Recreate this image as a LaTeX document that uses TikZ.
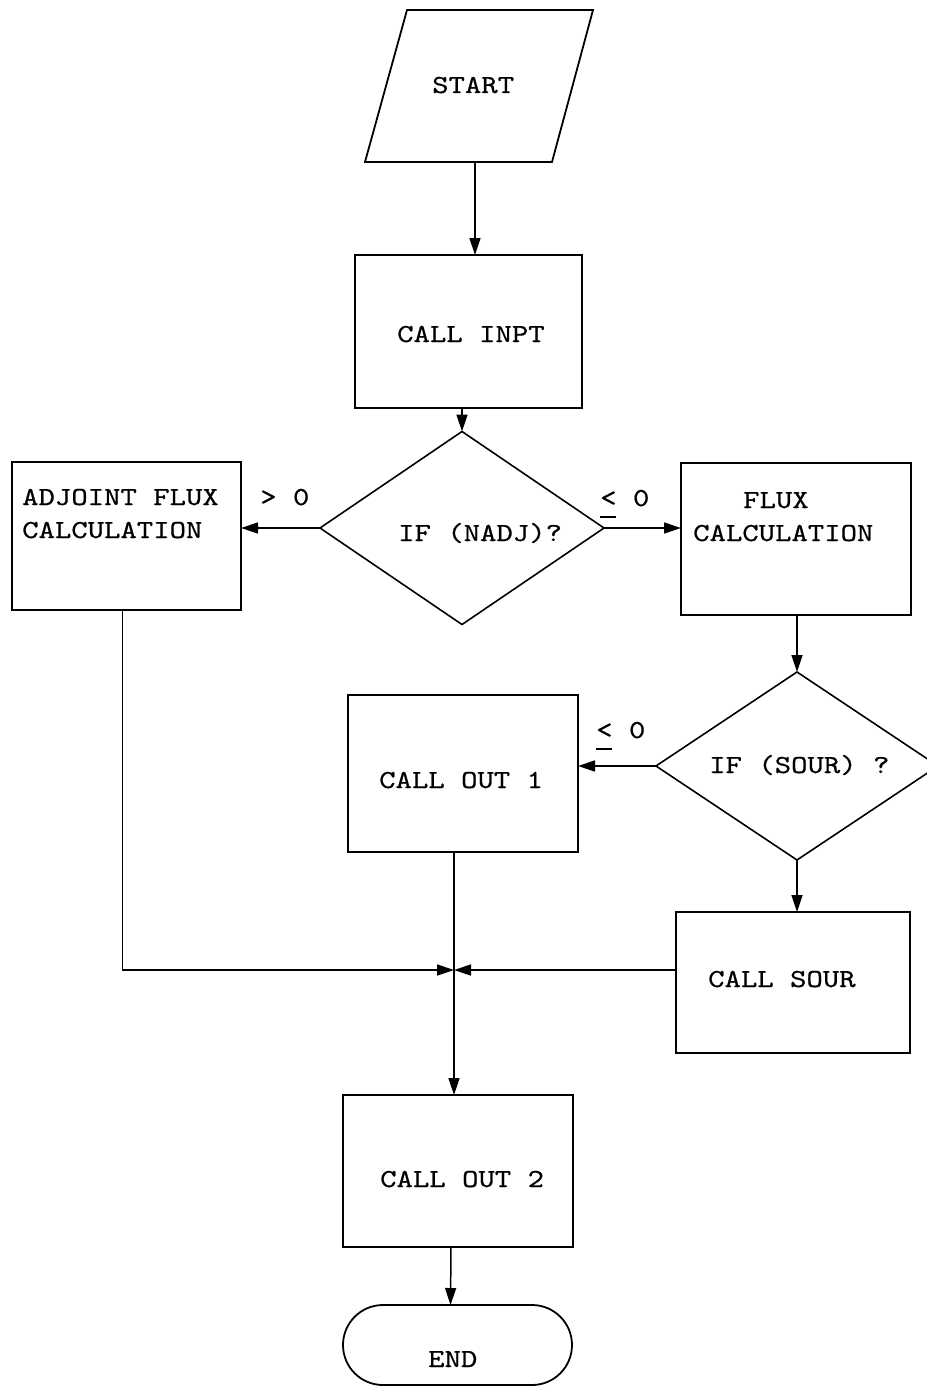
\documentclass[tikz,border=0pt]{standalone}
\usepackage{fontspec}
\newfontfamily\courfont{lmmono10-regular.otf}[FakeStretch=1.2,FakeBold=0.6]
\usetikzlibrary{shapes.geometric,shapes.misc,arrows.meta}
\begin{document}
\begin{tikzpicture}[x=1pt,y=-1pt,
  shapebox/.style={draw,line width=1.8pt,inner sep=0pt,outer sep=0pt,rectangle},
  decision/.style={draw,line width=1.6pt,inner sep=0pt,outer sep=0pt,diamond},
  terminal/.style={draw,line width=1.8pt,inner sep=0pt,outer sep=0pt,rounded rectangle},
  txt/.style={anchor=base west,inner sep=0pt,font=\courfont\fontsize{26}{32}\selectfont},
  conn/.style={line width=1.5pt},
  arr/.style={conn,-{Triangle[length=17pt,width=11pt]}}]
\useasboundingbox (0,0) rectangle (926,1386);
\newcommand{\leqmark}{\rlap{\rule[-12pt]{16pt}{1.6pt}}<}
% START parallelogram
\draw[line width=1.8pt] (407,10) -- (593,10) -- (552,162) -- (365,162) -- cycle;
\coordinate (startbot) at (475,162);
\node[txt] (tstart) at (432,93) {START};
% boxes
\node[shapebox,minimum width=227,minimum height=153] (inpt) at (468.5,331.5) {};
\node[txt] (tinpt) at (397,342) {CALL INPT};
\node[decision,minimum width=284,minimum height=193] (nadj) at (462,528) {};
\node[txt] (tnadj) at (398,541) {IF (NADJ)?};
\node[shapebox,minimum width=229,minimum height=148] (adj) at (126.5,536) {};
\node[txt] (tadj1) at (22,505) {ADJOINT FLUX};
\node[txt] (tadj2) at (22,538) {CALCULATION};
\node[txt] (tgt) at (260,505) {> 0};
\node[shapebox,minimum width=230,minimum height=152] (flux) at (796,539) {};
\node[txt] (tflux1) at (743,508) {FLUX};
\node[txt] (tflux2) at (693,541) {CALCULATION};
\node[txt] (tle1) at (600,506) {\leqmark\ 0};
\node[decision,minimum width=282,minimum height=188] (sour) at (797,766) {};
\node[txt] (tsour) at (709,773) {IF (SOUR) ?};
\node[shapebox,minimum width=230,minimum height=157] (out1) at (463,773.5) {};
\node[txt] (tout1) at (379,788) {CALL OUT 1};
\node[txt] (tle2) at (596,738) {\leqmark\ 0};
\node[shapebox,minimum width=234,minimum height=141] (csour) at (793,982.5) {};
\node[txt] (tcsour) at (708,987) {CALL SOUR};
\node[shapebox,minimum width=230,minimum height=152] (out2) at (458,1171) {};
\node[txt] (tout2) at (380,1187) {CALL OUT 2};
\node[terminal,minimum width=229,minimum height=80] (end) at (457.5,1345) {};
\node[txt] (tend) at (428,1367) {END};
\coordinate (junc) at (454,970);
% connectors
\draw[arr] (startbot) -- (startbot |- inpt.north);
\draw[arr] (nadj.north |- inpt.south) -- (nadj.north);
\draw[arr] (nadj.west) -- (nadj.west -| adj.east);
\draw[arr] (nadj.east) -- (nadj.east -| flux.west);
\draw[arr] (sour.north |- flux.south) -- (sour.north);
\draw[arr] (sour.west) -- (sour.west -| out1.east);
\draw[arr] (sour.south) -- (sour.south |- csour.north);
\draw[arr] ([xshift=-4pt]adj.south) |- (junc);
\draw[arr] (junc -| csour.west) -- (junc);
\draw[arr] (junc |- out1.south) -- (junc |- out2.north);
\draw[arr] ([xshift=-7pt]out2.south) -- ([xshift=-7pt]end.north);
\end{tikzpicture}
\end{document}
